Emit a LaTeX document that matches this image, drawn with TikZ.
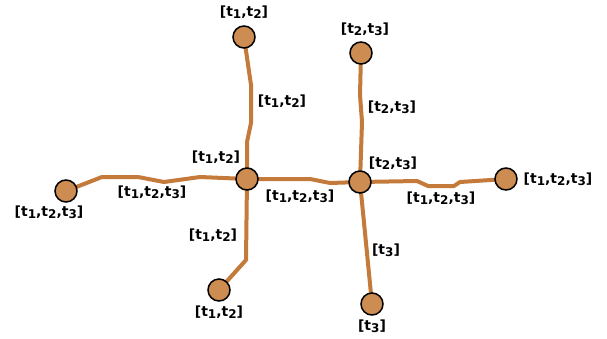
\documentclass[tikz,border=0pt]{standalone}
\usepackage{fontspec}
\setmainfont{DejaVu Sans}
\usetikzlibrary{backgrounds}
\definecolor{edgec}{HTML}{C47A3A}
\definecolor{nodec}{HTML}{CD8C52}
\newcommand\subd[1]{\raisebox{-0.3ex}{\fontsize{12}{12}\selectfont #1}}
\tikzset{
  vtx/.style={circle,draw=black,line width=1.5pt,fill=nodec,minimum size=22pt,inner sep=0pt},
  edg/.style={draw=edgec,line width=4pt,line join=round,line cap=round},
  lbl/.style={font=\fontsize{14}{16}\selectfont\bfseries,inner sep=0pt}
}
\begin{document}
\begin{tikzpicture}[x=1pt,y=-1pt]
\useasboundingbox (0,0) rectangle (607,338);
% vertices
\node[vtx] (a1) at (244,37) {};
\node[vtx] (a2) at (361,53) {};
\node[vtx] (c1) at (247,179) {};
\node[vtx] (c2) at (360,182) {};
\node[vtx] (l) at (66,191) {};
\node[vtx] (r) at (506,179) {};
\node[vtx] (b1) at (219,290) {};
\node[vtx] (b2) at (372,304) {};
% edges
\begin{scope}[on background layer]
\draw[edg] (a1.center) -- (251,85) -- (251,123) -- (247,142) -- (c1.center);
\draw[edg] (a2.center) -- (360,95) -- (362,122) -- (c2.center);
\draw[edg] (c1.center) -- (200,177) -- (164,182) -- (138,177) -- (102,177) -- (l.center);
\draw[edg] (c1.center) -- (310,179) -- (330,183) -- (c2.center);
\draw[edg] (c2.center) -- (417,181) -- (428,186) -- (454,186) -- (460,182) -- (r.center);
\draw[edg] (c1.center) -- (246,260) -- (b1.center);
\draw[edg] (c2.center) -- (b2.center);
\end{scope}
% labels
\node[lbl] (t1) at (244,12) {[t\subd{1},t\subd{2}]};
\node[lbl] (t2) at (365,29) {[t\subd{2},t\subd{3}]};
\node[lbl] (e1) at (282,101) {[t\subd{1},t\subd{2}]};
\node[lbl] (e2) at (392,107) {[t\subd{2},t\subd{3}]};
\node[lbl] (c1l) at (216,157) {[t\subd{1},t\subd{2}]};
\node[lbl] (c2l) at (393,163) {[t\subd{2},t\subd{3}]};
\node[lbl] (ll) at (49,212) {[t\subd{1},t\subd{2},t\subd{3}]};
\node[lbl] (e3) at (152,192) {[t\subd{1},t\subd{2},t\subd{3}]};
\node[lbl] (e4) at (300,196) {[t\subd{1},t\subd{2},t\subd{3}]};
\node[lbl] (e5) at (441,198) {[t\subd{1},t\subd{2},t\subd{3}]};
\node[lbl] (rl) at (558,179) {[t\subd{1},t\subd{2},t\subd{3}]};
\node[lbl] (e6) at (213,235) {[t\subd{1},t\subd{2}]};
\node[lbl] (e7) at (386,250) {[t\subd{3}]};
\node[lbl] (b1l) at (219,312) {[t\subd{1},t\subd{2}]};
\node[lbl] (b2l) at (372,326) {[t\subd{3}]};
\end{tikzpicture}
\end{document}
